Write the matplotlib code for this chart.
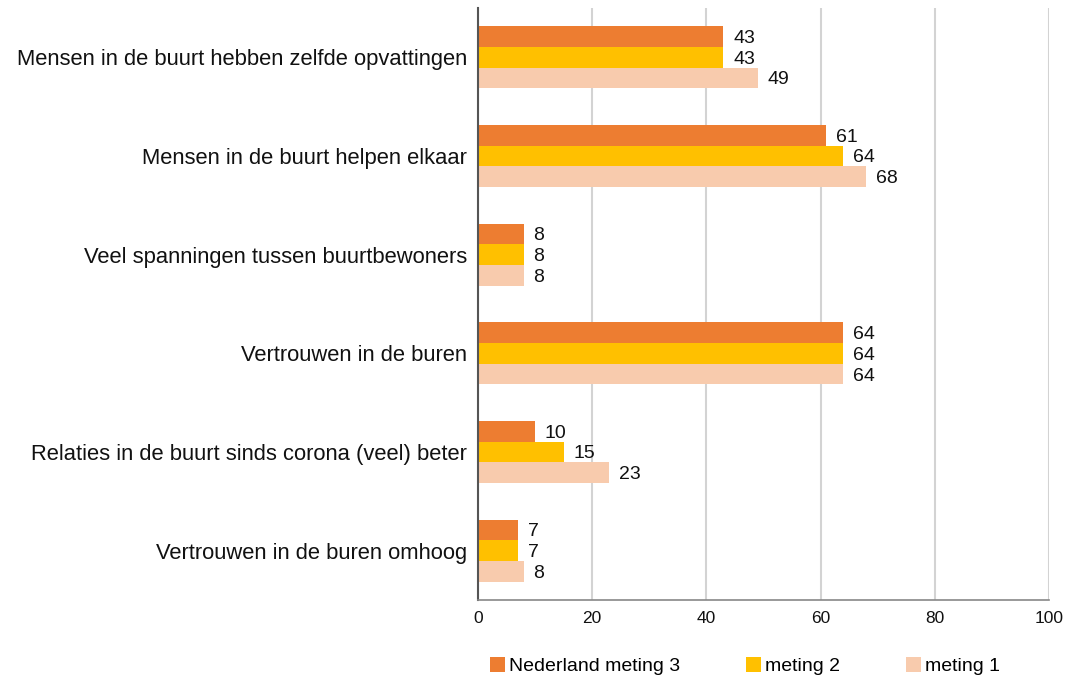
import numpy as np
import matplotlib
matplotlib.use('Agg')
import matplotlib.pyplot as plt

categories = ['Mensen in de buurt hebben zelfde opvattingen',
              'Mensen in de buurt helpen elkaar',
              'Veel spanningen tussen buurtbewoners',
              'Vertrouwen in de buren',
              'Relaties in de buurt sinds corona (veel) beter',
              'Vertrouwen in de buren omhoog']
series_names = ['Nederland meting 3', 'meting 2', 'meting 1']
meting3 = [43, 61, 8, 64, 10, 7]
meting2 = [43, 64, 8, 64, 15, 7]
meting1 = [49, 68, 8, 64, 23, 8]
colors = ['#ED7D31', '#FFC000', '#F8CBAD']
xticks = [0, 20, 40, 60, 80, 100]

plt.rcParams['font.family'] = ['Liberation Sans', 'DejaVu Sans']

fig = plt.figure(figsize=(10.67, 6.79), dpi=100)
ax = fig.add_axes([0.448, 0.1163, 0.535, 0.872])

y = np.arange(len(categories))
h = 0.21
series = [meting3, meting2, meting1]
for i, (vals, name, c) in enumerate(zip(series, series_names, colors)):
  pos = y + (i - 1) * h
  ax.barh(pos, vals, height=h, color=c, label=name, zorder=2)
  for p, v in zip(pos, vals):
    ax.text(v + 1.7, p + 0.02, str(v), va='center', ha='left', fontsize=14, color='#111111')

ax.set_ylim(len(categories) - 0.5, -0.5)
ax.set_xlim(0, 100)
ax.set_yticks(y)
ax.set_yticklabels(categories, fontsize=15.8, color='#111111')
ax.set_xticks(xticks)
ax.set_xticklabels([str(t) for t in xticks], fontsize=12.5, color='#111111')
ax.tick_params(axis='both', length=0)
ax.tick_params(axis='x', pad=8)
ax.tick_params(axis='y', pad=8)
ax.xaxis.grid(True, color='#d3d3d3', linewidth=1.5, zorder=0)
ax.set_axisbelow(True)
for s in ['top', 'right']:
  ax.spines[s].set_visible(False)
ax.spines['left'].set_color('#555555')
ax.spines['left'].set_linewidth(1.5)
ax.spines['bottom'].set_color('#888888')
ax.spines['bottom'].set_linewidth(1.2)

fig.legend(loc='center', bbox_to_anchor=(0.698, 0.019), ncol=3, frameon=False,
           fontsize=14, handlelength=0.78, handleheight=0.78, handletextpad=0.2,
           columnspacing=3.4, borderpad=0)

fig.savefig('out.png', dpi=100)
